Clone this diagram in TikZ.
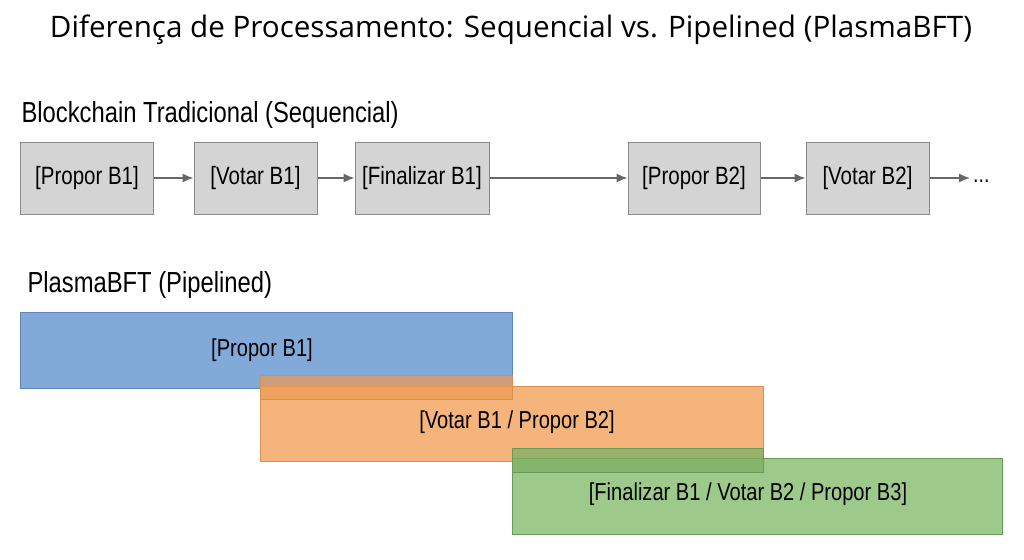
\documentclass[tikz,border=0pt]{standalone}
\usepackage{fontspec}
\setmainfont{Liberation Sans}[FakeStretch=0.82]
\newfontfamily\titlefont{Open Sans}
\usepackage{xcolor}
\usetikzlibrary{arrows.meta}

\definecolor{boxgray}{HTML}{D4D4D4}
\definecolor{boxline}{HTML}{8A8A8A}
\definecolor{arrowgray}{HTML}{666666}
\definecolor{barblue}{HTML}{82AAD8}
\definecolor{blueline}{HTML}{5F86B8}
\definecolor{barorange}{HTML}{F4B47B}
\definecolor{orangeline}{HTML}{D98E4A}
\definecolor{bandorange}{HTML}{EE9A52}
\definecolor{bargreen}{HTML}{9DC98A}
\definecolor{greenline}{HTML}{6A9A58}
\definecolor{bandgreen}{HTML}{7DAE62}

\tikzset{
  seqbox/.style={draw=boxline, fill=boxgray, line width=1pt,
    minimum height=72pt, inner sep=0pt, font=\fontsize{25}{29}\selectfont},
  seqarrow/.style={arrowgray, line width=1.4pt, -{Latex[length=11pt,width=9pt]}},
  rowlabel/.style={anchor=west, font=\fontsize{29}{33}\selectfont},
  barlabel/.style={font=\fontsize{24.5}{28}\selectfont}
}

\begin{document}
\begin{tikzpicture}[x=1pt,y=-1pt]
  \useasboundingbox[fill=white] (0,0) rectangle (1024,559);
  \node[font=\titlefont\fontsize{29.6}{34}\selectfont] (title) at (511,30)
    {Diferença de Processamento: Sequencial vs. Pipelined (PlasmaBFT)};

  % sequencial
  \node[rowlabel] (seqlabel) at (18,115) {Blockchain Tradicional (Sequencial)};
  \node[seqbox, minimum width=133pt] (propor1) at (87,178) {[Propor B1]};
  \node[seqbox, minimum width=123pt] (votar1) at (255.5,178) {[Votar B1]};
  \node[seqbox, minimum width=134pt] (final1) at (422,178) {[Finalizar B1]};
  \node[seqbox, minimum width=132pt] (propor2) at (694,178) {[Propor B2]};
  \node[seqbox, minimum width=123pt] (votar2) at (867.5,178) {[Votar B2]};
  \node[font=\fontsize{24}{28}\selectfont, inner sep=3pt, anchor=west] (dots) at (970,181) {...};
  \draw[seqarrow] (propor1) -- (votar1);
  \draw[seqarrow] (votar1) -- (final1);
  \draw[seqarrow] (final1) -- (propor2);
  \draw[seqarrow] (propor2) -- (votar2);
  \draw[seqarrow] (votar2.east) -- (dots.west |- votar2.east);

  % pipelined
  \node[rowlabel] (pipelabel) at (24,285) {PlasmaBFT (Pipelined)};
  \fill[barblue] (20,312) rectangle (512,388);
  \draw[blueline] (20,312) rectangle (512,388);
  \node[barlabel] (bar1) at (262,350) {[Propor B1]};

  \fill[barorange] (260,386) rectangle (763,461);
  \draw[orangeline] (260,386) rectangle (763,461);
  \fill[bandorange, opacity=0.7] (260,375) rectangle (512,399);
  \draw[orangeline] (260,375) rectangle (512,399);
  \node[barlabel] (bar2) at (517,422) {[Votar B1 / Propor B2]};

  \fill[bargreen] (512,458) rectangle (1002,534);
  \draw[greenline] (512,458) rectangle (1002,534);
  \fill[bandgreen, opacity=0.75] (512,448) rectangle (763,472);
  \draw[greenline] (512,448) rectangle (763,472);
  \node[barlabel] (bar3) at (748,494) {[Finalizar B1 / Votar B2 / Propor B3]};
\end{tikzpicture}
\end{document}
